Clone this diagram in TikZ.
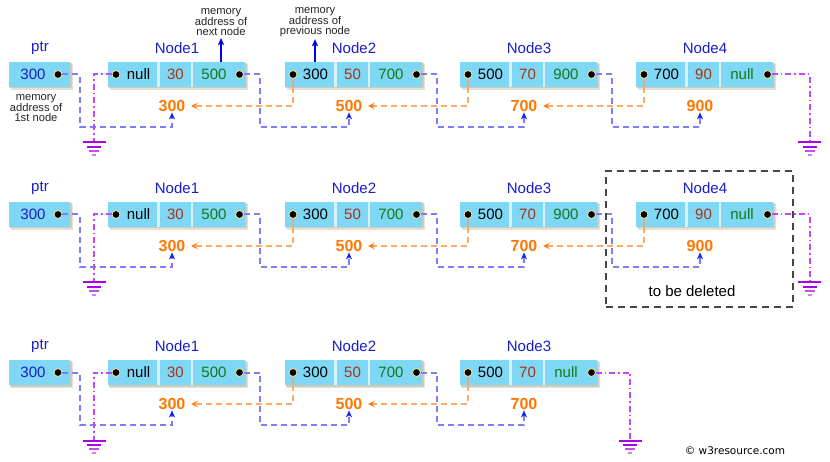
\documentclass[tikz,border=0pt]{standalone}
\usepackage{fontspec}
\setmainfont{Liberation Sans}
\newfontfamily\dejavu{DejaVu Sans}
\usetikzlibrary{arrows.meta,calc}

\definecolor{cellblue}{RGB}{125,215,245}
\definecolor{sepc}{RGB}{215,240,250}
\definecolor{shadowc}{RGB}{228,226,214}
\definecolor{shadowd}{RGB}{205,203,190}
\definecolor{nodeblue}{RGB}{25,30,200}
\definecolor{valred}{RGB}{170,50,20}
\definecolor{valgreen}{RGB}{20,120,20}
\definecolor{addrorange}{RGB}{255,120,0}
\definecolor{orangeln}{RGB}{255,170,105}
\definecolor{orangehead}{RGB}{255,125,15}
\definecolor{tanln}{RGB}{215,175,130}
\definecolor{blueln}{RGB}{125,125,255}
\definecolor{bluehead}{RGB}{20,40,230}
\definecolor{purpln}{RGB}{195,70,255}
\definecolor{gndc}{RGB}{170,0,230}
\definecolor{dothalo}{RGB}{235,225,160}
\definecolor{annblue}{RGB}{0,0,230}
\definecolor{delgray}{RGB}{70,70,70}

\tikzset{
  cellbox/.style={fill=cellblue, minimum height=25pt, inner sep=0pt, draw=none},
  sepline/.style={draw=sepc, line width=2.2pt},
  dotc/.style={circle, fill=black, draw=dothalo, line width=0.9pt, minimum size=8pt, inner sep=0pt},
  valtxt/.style={font=\fontsize{15}{18}\selectfont, inner sep=0pt, anchor=center},
  nodelab/.style={font=\fontsize{15}{18}\selectfont, text=nodeblue, inner sep=0pt},
  addrlab/.style={font=\bfseries\fontsize{16}{19}\selectfont, text=addrorange, inner sep=0.5pt},
  annot/.style={font=\fontsize{11.2}{10}\selectfont, align=center, inner sep=0pt, text=black!85},
  annarrow/.style={draw=annblue, line width=1.8pt, -{Stealth[length=7pt,width=6pt,inset=1.5pt]}},
  blueline/.style={draw=blueln, line width=2pt, dash pattern=on 6pt off 4pt,
    -{Stealth[length=7pt,width=6pt,inset=2pt,color=bluehead]}},
  orangeline/.style={draw=orangeln, line width=2pt, dash pattern=on 6pt off 4pt,
    -{Stealth[length=7pt,width=7pt,inset=3pt,color=orangehead]}},
  tanline/.style={draw=tanln, line width=2pt},
  purpleline/.style={draw=purpln, line width=2pt, dash pattern=on 6pt off 3pt on 1.5pt off 3pt},
  delbox/.style={draw=delgray, line width=2pt, dash pattern=on 7pt off 5pt, minimum width=187pt, minimum height=136pt, inner sep=0pt}
}

% linked-list node: #1 name, #2 left x, #3 centre y, #4 #5 #6 values, #7 title, #8 address
\newcommand\LLbox[8]{%
  \fill[shadowc] (#2+2,#3-10.5) rectangle (#2+140,#3+15.5);
  \fill[shadowd] (#2+1,#3-11.5) rectangle (#2+138.5,#3+14);
  \node[cellbox,minimum width=137pt] (#1) at (#2+68.5,#3) {};
  \draw[sepline] (#2+50.5,#3-12.5) -- (#2+50.5,#3+12.5);
  \draw[sepline] (#2+84,#3-12.5) -- (#2+84,#3+12.5);
  \node[dotc] (#1-a) at (#2+8,#3) {};
  \node[dotc] (#1-b) at (#2+131.5,#3) {};
  \node[valtxt] (#1-v1) at (#2+30.5,#3) {#4};
  \node[valtxt,text=valred] (#1-v2) at (#2+67.5,#3) {#5};
  \node[valtxt,text=valgreen] (#1-v3) at (#2+106,#3) {#6};
  \node[nodelab] (#1-t) at (#2+69,#3-26.5) {#7};
  \node[addrlab] (#1-o) at (#2+64,#3+31.5) {#8};
}
% head pointer: #1 name, #2 centre y, #3 value
\newcommand\LLptr[3]{%
  \fill[shadowc] (11,#2-10.5) rectangle (73,#2+15.5);
  \fill[shadowd] (10,#2-11.5) rectangle (71.5,#2+14);
  \node[cellbox,minimum width=61pt] (#1) at (39.5,#2) {};
  \node[dotc] (#1-b) at (58,#2) {};
  \node[valtxt,text=nodeblue] (#1-v) at (33,#2) {#3};
  \node[nodelab] (#1-t) at (40,#2-26.5) {ptr};
}
\newcommand\LLblue[3]{%
  \draw[blueline] (#1-b) -| ([shift={(#3,52.5)}]#1.east) -| (#2-o.south);}
\newcommand\LLorange[2]{%
  \draw[tanline] (#2-a) -- (#2-a |- #2.south);
  \draw[orangeline] (#2-a |- #2.south) |- ([xshift=5pt]#1-o.east);}
\newcommand\LLground[1]{%
  \draw[gndc,line width=2pt] ([xshift=-11.5pt]#1) -- ([xshift=11.5pt]#1);
  \draw[gndc,line width=1.8pt] ([shift={(-7,4.5)}]#1) -- ([shift={(7,4.5)}]#1);
  \draw[gndc!70,line width=1.5pt] ([shift={(-5,8.5)}]#1) -- ([shift={(5,8.5)}]#1);
  \draw[gndc!50,line width=1.5pt] ([shift={(-2,12.5)}]#1) -- ([shift={(2,12.5)}]#1);}
\newcommand\LLgndleft[2]{%
  \coordinate (#1-gl) at (94,#2+68);
  \draw[purpleline] (#1-a) -| (#1-gl);
  \LLground{#1-gl}}
\newcommand\LLgndright[3]{%
  \coordinate (#1-gr) at (#3,#2+68);
  \draw[purpleline] (#1-b) -| (#1-gr);
  \LLground{#1-gr}}

\begin{document}
\begin{tikzpicture}[x=1pt,y=-1pt]
\useasboundingbox (0,0) rectangle (830,462);
\fill[white] (0,0) rectangle (830,462);

% ---------- row 1 ----------
\LLptr{ra}{74.5}{300}
\LLbox{ra1}{108}{74.5}{null}{30}{500}{Node1}{300}
\LLbox{ra2}{285}{74.5}{300}{50}{700}{Node2}{500}
\LLbox{ra3}{460}{74.5}{500}{70}{900}{Node3}{700}
\LLbox{ra4}{636}{74.5}{700}{90}{null}{Node4}{900}
\LLblue{ra}{ra1}{10}
\LLblue{ra1}{ra2}{15}
\LLblue{ra2}{ra3}{15}
\LLblue{ra3}{ra4}{15}
\LLorange{ra1}{ra2}
\LLorange{ra2}{ra3}
\LLorange{ra3}{ra4}
\LLgndleft{ra1}{74.5}
\LLgndright{ra4}{74.5}{809.5}
\node[annot] (ann0) at (36,108) {memory\\address of\\1st node};
\node[annot] (ann1) at (221,22) {memory\\address of\\next node};
\node[annot] (ann2) at (315,22) {memory\\address of\\previous node};
\draw[annarrow] (ann1.south |- ra1.north) -- ([yshift=-2pt]ann1.south);
\draw[annarrow] (ann2.south |- ra2.north) -- ([yshift=-2pt]ann2.south);

% ---------- row 2 ----------
\LLptr{rb}{214.5}{300}
\LLbox{rb1}{108}{214.5}{null}{30}{500}{Node1}{300}
\LLbox{rb2}{285}{214.5}{300}{50}{700}{Node2}{500}
\LLbox{rb3}{460}{214.5}{500}{70}{900}{Node3}{700}
\LLbox{rb4}{636}{214.5}{700}{90}{null}{Node4}{900}
\LLblue{rb}{rb1}{10}
\LLblue{rb1}{rb2}{15}
\LLblue{rb2}{rb3}{15}
\LLblue{rb3}{rb4}{15}
\LLorange{rb1}{rb2}
\LLorange{rb2}{rb3}
\LLorange{rb3}{rb4}
\LLgndleft{rb1}{214.5}
\LLgndright{rb4}{214.5}{809.5}
\node[delbox] (del) at (699.5,239) {};
\node[font=\fontsize{15}{18}\selectfont, inner sep=0pt] (deltxt) at (692,291) {to be deleted};

% ---------- row 3 ----------
\LLptr{rc}{372.5}{300}
\LLbox{rc1}{108}{372.5}{null}{30}{500}{Node1}{300}
\LLbox{rc2}{285}{372.5}{300}{50}{700}{Node2}{500}
\LLbox{rc3}{460}{372.5}{500}{70}{null}{Node3}{700}
\LLblue{rc}{rc1}{10}
\LLblue{rc1}{rc2}{15}
\LLblue{rc2}{rc3}{15}
\LLorange{rc1}{rc2}
\LLorange{rc2}{rc3}
\LLgndleft{rc1}{372.5}
\LLgndright{rc3}{372.5}{630}

\node[font=\dejavu\fontsize{10.5}{12}\selectfont, inner sep=0pt] (copy) at (735,451) {© w3resource.com};
\end{tikzpicture}
\end{document}
